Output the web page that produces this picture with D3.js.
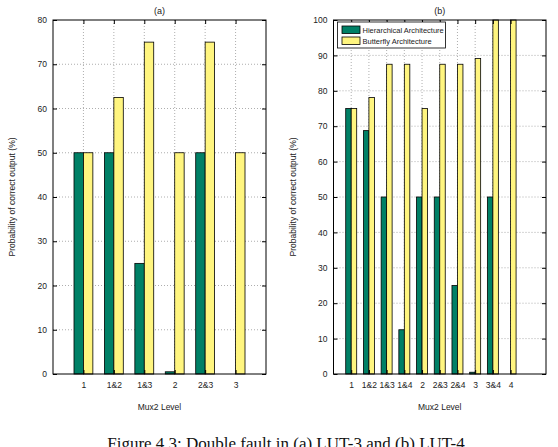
<!DOCTYPE html>
<html>
<head>
<meta charset="utf-8">
<script src="https://cdn.jsdelivr.net/npm/d3@7"></script>
<style>
body { margin: 0; background: #fff; }
text { font-family: "Liberation Sans", Arial, sans-serif; }
text.caption { font-family: "Liberation Serif", "DejaVu Serif", serif; }
.grid line { stroke: #999; stroke-dasharray: 1,2; stroke-width: 0.8; }
</style>
</head>
<body>
<script>
// panel (a): LUT-3
var catsA = ['1', '1&2', '1&3', '2', '2&3', '3'];
var hierA = [50, 50, 25, 0.5, 50, 0];
var buttA = [50, 62.5, 75, 50, 75, 50];
var yTicksA = [0, 10, 20, 30, 40, 50, 60, 70, 80];

// panel (b): LUT-4
var catsB = ['1', '1&2', '1&3', '1&4', '2', '2&3', '2&4', '3', '3&4', '4'];
var hierB = [75, 68.75, 50, 12.5, 50, 50, 25, 0.5, 50, 0];
var buttB = [75, 78.1, 87.5, 87.5, 75, 87.5, 87.5, 89.1, 100, 100];
var yTicksB = [0, 10, 20, 30, 40, 50, 60, 70, 80, 90, 100];

var seriesNames = ['Hierarchical Architecture', 'Butterfly Architecture'];
var colors = ['#008066', '#fff57f'];

var svg = d3.select('body').append('svg')
  .attr('width', 558)
  .attr('height', 447);

function panel(left, right, title, cats, s1, s2, yTicks, xMax, legend) {
  var top = 20, bottom = 374;
  var x = d3.scaleLinear().domain([0, xMax]).range([left, right]);
  var y = d3.scaleLinear().domain([0, d3.max(yTicks)]).range([bottom, top]);
  var g = svg.append('g');
  var bw = 0.31;

  // grid
  var grid = g.append('g').attr('class', 'grid');
  grid.selectAll('.gy').data(yTicks.slice(1, -1)).enter().append('line')
    .attr('x1', left).attr('x2', right)
    .attr('y1', function(d) { return y(d); }).attr('y2', function(d) { return y(d); });
  grid.selectAll('.gx').data(cats).enter().append('line')
    .attr('x1', function(d, i) { return x(i + 1); }).attr('x2', function(d, i) { return x(i + 1); })
    .attr('y1', top).attr('y2', bottom);

  var data = cats.map(function(c, i) { return {i: i, a: s1[i], b: s2[i]}; });
  g.selectAll('.ba').data(data).enter().append('rect')
    .attr('x', function(d) { return x(d.i + 1 - bw); })
    .attr('width', x(bw) - x(0))
    .attr('y', function(d) { return y(d.a); })
    .attr('height', function(d) { return y(0) - y(d.a); })
    .attr('fill', colors[0]).attr('stroke', '#000').attr('stroke-width', 0.8);
  g.selectAll('.bb').data(data).enter().append('rect')
    .attr('x', function(d) { return x(d.i + 1); })
    .attr('width', x(bw) - x(0))
    .attr('y', function(d) { return y(d.b); })
    .attr('height', function(d) { return y(0) - y(d.b); })
    .attr('fill', colors[1]).attr('stroke', '#000').attr('stroke-width', 0.8);

  // box
  g.append('rect').attr('x', left).attr('y', top)
    .attr('width', right - left).attr('height', bottom - top)
    .attr('fill', 'none').attr('stroke', '#000').attr('stroke-width', 1);

  var yAxis = g.append('g').attr('transform', 'translate(' + left + ',0)')
    .call(d3.axisLeft(y).tickValues(yTicks).tickSize(-4).tickPadding(6));
  var yAxisR = g.append('g').attr('transform', 'translate(' + right + ',0)')
    .call(d3.axisRight(y).tickValues(yTicks).tickSize(-4).tickFormat(''));
  var xAxis = g.append('g').attr('transform', 'translate(0,' + bottom + ')')
    .call(d3.axisBottom(x).tickValues(d3.range(1, cats.length + 1))
      .tickFormat(function(d) { return cats[d - 1]; }).tickSize(-4).tickPadding(8));
  var xAxisT = g.append('g').attr('transform', 'translate(0,' + top + ')')
    .call(d3.axisTop(x).tickValues(d3.range(1, cats.length + 1)).tickSize(-4).tickFormat(''));
  [yAxis, yAxisR, xAxis, xAxisT].forEach(function(a) {
    a.select('.domain').remove();
    a.selectAll('line').attr('stroke', '#000');
    a.selectAll('text').attr('font-size', 8.5).attr('fill', '#222')
      .attr('font-family', '"Liberation Sans", Arial, sans-serif');
  });

  g.append('text').attr('x', (left + right) / 2).attr('y', 14)
    .attr('text-anchor', 'middle').attr('font-size', 9).attr('fill', '#222').text(title);
  g.append('text').attr('x', (left + right) / 2).attr('y', 410)
    .attr('text-anchor', 'middle').attr('font-size', 8.5).attr('fill', '#222').text('Mux2 Level');
  g.append('text')
    .attr('transform', 'translate(' + (left - 38) + ',' + ((top + bottom) / 2) + ') rotate(-90)')
    .attr('text-anchor', 'middle').attr('font-size', 8.5).attr('fill', '#222')
    .text('Probability of correct output (%)');

  if (legend) {
    var lg = g.append('g').attr('transform', 'translate(' + (left + 4) + ',' + (top + 2) + ')');
    lg.append('rect').attr('width', 108).attr('height', 26)
      .attr('fill', '#fff').attr('stroke', '#000').attr('stroke-width', 0.8);
    seriesNames.forEach(function(n, i) {
      lg.append('rect').attr('x', 4.5).attr('y', 4 + i * 11).attr('width', 18).attr('height', 7.5)
        .attr('fill', colors[i]).attr('stroke', '#000').attr('stroke-width', 0.8);
      lg.append('text').attr('x', 25).attr('y', 11 + i * 11)
        .attr('font-size', 7.5).attr('fill', '#222').text(n);
    });
  }
}

panel(53, 266, '(a)', catsA, hierA, buttA, yTicksA, 7, false);
panel(333.5, 546, '(b)', catsB, hierB, buttB, yTicksB, 12, true);

svg.append('text').attr('class', 'caption')
  .attr('x', 286).attr('y', 449)
  .attr('text-anchor', 'middle')
  .attr('font-size', 17).attr('fill', '#111')
  .text('Figure 4.3: Double fault in (a) LUT-3 and (b) LUT-4');
</script>
</body>
</html>
